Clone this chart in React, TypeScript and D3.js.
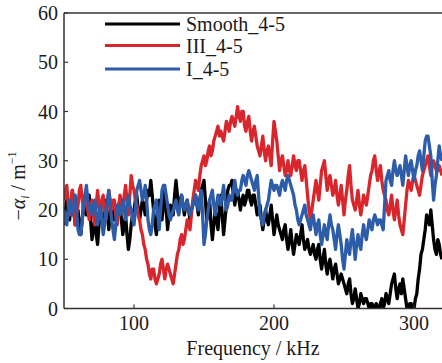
import React from "react";
import * as d3 from "d3";

const freqStart = 50;
const freqStep = 1;

const smooth = [
  17,20,22,19,18,21,24,20,17,19,
  20,17,15,18,21,20,19,21,23,18,
  14,16,18,15,13,17,20,18,17,20,
  22,19,16,19,21,19,18,20,20,21,
  22,18,15,17,19,15,12,14,17,19,
  20,22,23,20,18,20,22,21,19,22,
  24,23,26,23,20,17,15,19,22,20,
  18,21,24,20,16,19,21,20,19,23,
  26,23,20,22,23,21,19,21,22,20,
  18,20,21,23,23,21,19,22,24,25,
  26,22,18,20,22,17,14,17,20,18,
  16,20,23,19,15,18,21,24,25,25,
  26,23,21,23,24,22,20,22,23,21,
  22,24,24,22,21,23,23,21,19,20,
  21,18,16,18,20,18,17,19,21,18,
  15,17,19,17,16,15,14,16,17,14,
  12,14,16,13,11,13,15,14,13,15,
  17,14,12,13,14,12,11,12,13,11,
  10,12,13,10,8,10,12,9,7,9,
  10,8,6,8,9,7,5,6,7,6,
  5,4,3,5,6,3,1,2,4,2,
  0,1,3,2,1,2,2,1,0,1,
  1,0,0,1,0,0,1,2,0,1,
  3,2,1,3,5,6,7,4,2,4,
  5,3,6,4,2,0,0,1,1,0,
  0,2,3,6,8,11,12,14,16,19,
  18,17,20,17,14,12,11,14,13,11,10,
];

const type3 = [
  22,24,25,21,19,22,24,20,17,19,
  21,24,25,22,20,23,23,20,18,21,
  22,19,17,21,24,21,19,22,23,20,
  18,21,24,22,20,22,22,19,17,20,
  23,21,20,23,25,22,19,23,27,25,
  24,22,21,19,18,16,15,13,12,10,
  9,7,6,8,8,6,5,6,7,9,
  10,8,6,8,9,8,7,6,5,7,
  9,11,12,14,15,13,14,16,18,17,
  16,19,22,24,26,25,24,27,29,30,
  31,29,30,32,33,31,32,34,35,36,
  37,35,36,35,34,36,38,37,36,38,
  39,38,37,39,41,39,38,40,40,37,
  36,38,39,36,34,36,37,35,33,32,
  31,33,35,32,30,32,33,31,29,34,
  38,36,34,31,28,30,31,29,27,28,
  30,28,27,29,31,29,28,30,30,28,
  26,28,29,26,23,20,18,20,22,24,
  26,24,22,25,28,29,30,27,24,26,
  27,25,23,24,26,23,21,23,25,22,
  19,22,24,27,29,25,22,21,20,22,
  24,21,19,21,23,22,21,23,25,27,
  28,30,31,28,26,28,29,26,24,23,
  22,20,19,21,23,20,18,20,22,19,
  17,16,15,18,21,24,26,25,24,26,
  27,26,25,24,23,25,27,28,29,30,
  31,29,27,29,30,29,28,28,29,28,27,
];

const type1 = [
  20,18,17,20,22,20,19,21,23,20,
  16,15,15,18,21,23,25,22,20,21,
  19,21,22,19,17,19,21,18,15,17,
  20,22,24,21,18,16,14,17,21,20,
  19,20,22,20,18,21,23,21,20,18,
  17,20,24,25,26,24,22,23,25,22,
  18,16,15,17,20,21,22,19,16,20,
  24,25,25,23,21,19,18,19,20,21,
  22,20,19,21,23,21,20,21,22,20,
  19,20,21,22,23,21,20,22,24,19,
  13,15,18,20,22,23,24,21,19,21,
  23,22,21,23,25,22,20,21,23,22,
  22,24,26,24,23,24,24,26,27,26,
  25,27,28,27,26,25,24,26,27,23,
  19,18,17,19,20,21,22,24,26,25,
  24,25,25,24,23,25,26,25,24,26,
  27,26,25,24,23,21,20,18,17,18,
  19,20,21,19,18,17,16,18,19,17,
  15,17,18,15,13,15,17,15,14,17,
  19,17,16,14,12,15,17,15,13,10,
  8,11,14,12,11,14,16,13,10,13,
  15,13,12,15,17,15,14,16,18,17,
  16,18,19,18,17,18,18,17,16,21,
  26,27,28,26,25,28,30,28,27,28,
  29,27,25,28,31,29,27,29,30,28,
  26,28,29,31,32,30,28,31,34,35,
  35,33,31,26,22,25,27,30,33,31,30,
];

const seriesNames = ["Smooth_4-5", "III_4-5", "I_4-5"];
const seriesColors = ["#000000", "#d8262c", "#2d5ca9"];
const seriesValues = [smooth, type3, type1];

const xTicks = [100, 200, 300];
const yTicks = [0, 10, 20, 30, 40, 50, 60];

const W = 442;
const H = 363;
const left = 64;
const right = 442;
const top = 13;
const bottom = 308.5;

export default function App() {
  const x = d3.scaleLinear().domain([50, 320]).range([left, right]);
  const y = d3.scaleLinear().domain([0, 60]).range([bottom, top]);
  const line = d3
    .line<number>()
    .x((_, i) => x(freqStart + i * freqStep))
    .y((d) => y(d));
  const axisColor = "#333";
  const tStyle: React.CSSProperties = { fontFamily: "Liberation Serif", fontSize: "20px", fill: "#1a1a1a" };

  return (
    <div style={{ position: "absolute", left: 0, top: 0, width: W, height: H, background: "#fff" }}>
      <svg width={W} height={H} style={{ display: "block" }}>
        <defs>
          <clipPath id="plotclip">
            <rect x={left} y={top} width={right - left} height={bottom - top} />
          </clipPath>
        </defs>
        <g clipPath="url(#plotclip)">
          {seriesValues.map((vals, k) => (
            <path
              key={k}
              d={line(vals) || ""}
              fill="none"
              stroke={seriesColors[k]}
              strokeWidth={3.3}
              strokeLinejoin="round"
            />
          ))}
        </g>
        <line x1={left} x2={right} y1={top} y2={top} stroke={axisColor} strokeWidth={1.5} />
        <line x1={left} x2={left} y1={top} y2={bottom} stroke={axisColor} strokeWidth={1.5} />
        <line x1={left} x2={right} y1={bottom} y2={bottom} stroke={axisColor} strokeWidth={1.5} />
        {yTicks.map((t) => (
          <g key={t}>
            <line x1={left} x2={left + 4} y1={y(t)} y2={y(t)} stroke={axisColor} strokeWidth={1.2} />
            <text x={left - 6} y={y(t) + 7} textAnchor="end" style={tStyle}>
              {t}
            </text>
          </g>
        ))}
        {xTicks.map((t) => (
          <g key={t}>
            <line x1={x(t)} x2={x(t)} y1={bottom} y2={bottom - 4} stroke={axisColor} strokeWidth={1.2} />
            <text x={x(t)} y={330} textAnchor="middle" style={tStyle}>
              {t}
            </text>
          </g>
        ))}
        <text x={253} y={355} textAnchor="middle" style={tStyle}>
          Frequency / kHz
        </text>
        <text transform="translate(25,186) rotate(-90)" textAnchor="middle" style={tStyle}>
          <tspan>−</tspan>
          <tspan fontStyle="italic">α</tspan>
          <tspan fontSize={12} dy={4} fontStyle="italic">i</tspan>
          <tspan dy={-4}> / m</tspan>
          <tspan fontSize={12} dy={-9}>−1</tspan>
        </text>
        {seriesNames.map((n, k) => {
          const ly = [24, 45.5, 69][k];
          return (
            <g key={n}>
              <line x1={105} x2={180} y1={ly} y2={ly} stroke={seriesColors[k]} strokeWidth={3.2} />
              <text x={186} y={ly + 7} style={tStyle}>
                {n}
              </text>
            </g>
          );
        })}
      </svg>
    </div>
  );
}
